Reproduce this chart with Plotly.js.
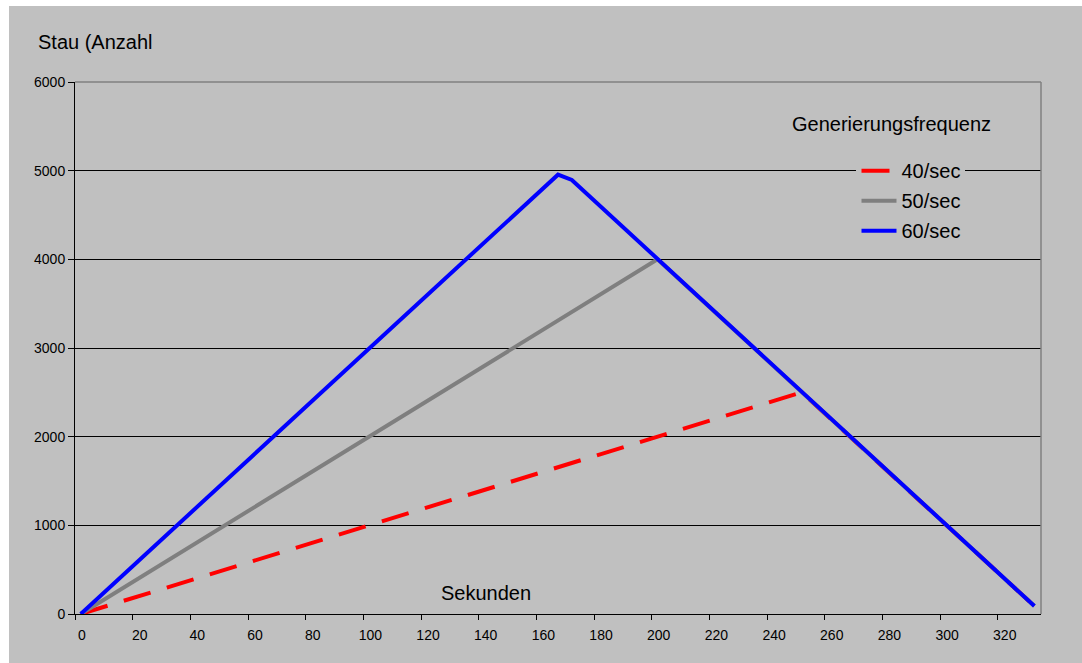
<!DOCTYPE html>
<html>
<head>
<meta charset="utf-8">
<script src="https://cdn.plot.ly/plotly-3.0.1.min.js"></script>
<style>
html,body{margin:0;padding:0;background:#ffffff;}
#chart{position:absolute;left:9px;top:6px;width:1073px;height:657px;}
</style>
</head>
<body>
<div id="chart"></div>
<script>
// Data (seconds vs. queue length)
const seriesNames = ["40/sec", "50/sec", "60/sec"];
const x40 = [2, 252, 332.7];
const y40 = [0, 2500, 90];
const x50 = [2, 202, 332.7];
const y50 = [0, 4000, 90];
const x60 = [2, 167.5, 172.3, 332.7];
const y60 = [0, 4955, 4895, 90];
const xTicks = [0, 20, 40, 60, 80, 100, 120, 140, 160, 180, 200, 220, 240, 260, 280, 300, 320];
const yTicks = [0, 1000, 2000, 3000, 4000, 5000, 6000];

const FONT = "Liberation Sans, Arial, sans-serif";

const traces = [
  {x: x40, y: y40, name: seriesNames[0], mode: "lines", legendgroup: "a",
   line: {color: "#ff0000", width: 4, dash: "28px,17px"}},
  {x: x50, y: y50, name: seriesNames[1], mode: "lines", legendgroup: "b",
   line: {color: "#7f7f7f", width: 4}},
  {x: x60, y: y60, name: seriesNames[2], mode: "lines", legendgroup: "c",
   line: {color: "#0000ff", width: 4}}
];

const layout = {
  width: 1073, height: 657,
  margin: {l: 66, r: 41, t: 76, b: 49, pad: 0},
  paper_bgcolor: "#c0c0c0",
  plot_bgcolor: "#c0c0c0",
  font: {family: FONT, color: "#000000", size: 14},
  showlegend: true,
  legend: {
    x: 0.809, y: 0.87, xanchor: "left", yanchor: "top",
    bgcolor: "#c0c0c0", borderwidth: 0,
    font: {family: FONT, size: 20, color: "#000"},
    traceorder: "grouped", tracegroupgap: 1, itemwidth: 35
  },
  xaxis: {
    range: [0, 335], tickvals: xTicks, ticktext: xTicks.map(String),
    showgrid: false, zeroline: false,
    showline: true, linecolor: "#000", linewidth: 1,
    ticks: "outside", ticklen: 5, tickcolor: "#000",
    ticklabelshift: 7, ticklabelstandoff: 3,
    tickfont: {family: FONT, size: 14, color: "#000"}
  },
  yaxis: {
    range: [0, 6000], tickvals: yTicks, ticktext: yTicks.map(String),
    showgrid: true, gridcolor: "#000", gridwidth: 1, zeroline: false,
    showline: true, linecolor: "#000", linewidth: 1,
    ticks: "outside", ticklen: 6, tickcolor: "#000",
    tickfont: {family: FONT, size: 14, color: "#000"}
  },
  shapes: [
    {type: "line", xref: "paper", yref: "paper", x0: 0, x1: 1, y0: 1, y1: 1,
     line: {color: "#808080", width: 1.5}, layer: "above"},
    {type: "line", xref: "paper", yref: "paper", x0: 1, x1: 1, y0: 0, y1: 1,
     line: {color: "#808080", width: 1.5}, layer: "above"}
  ],
  annotations: [
    {text: "Stau (Anzahl", xref: "paper", yref: "paper", x: -0.0404, y: 1.0752,
     xanchor: "left", yanchor: "middle", showarrow: false,
     font: {family: FONT, size: 20, color: "#000"}},
    {text: "Sekunden", xref: "paper", yref: "paper", x: 0.425, y: 0.0395,
     xanchor: "center", yanchor: "middle", showarrow: false,
     font: {family: FONT, size: 20, color: "#000"}},
    {text: "Generierungsfrequenz", xref: "paper", yref: "paper", x: 0.7402, y: 0.921,
     xanchor: "left", yanchor: "middle", showarrow: false,
     font: {family: FONT, size: 20, color: "#000"}}
  ]
};

Plotly.newPlot("chart", traces, layout, {displayModeBar: false, staticPlot: true});
</script>
</body>
</html>
